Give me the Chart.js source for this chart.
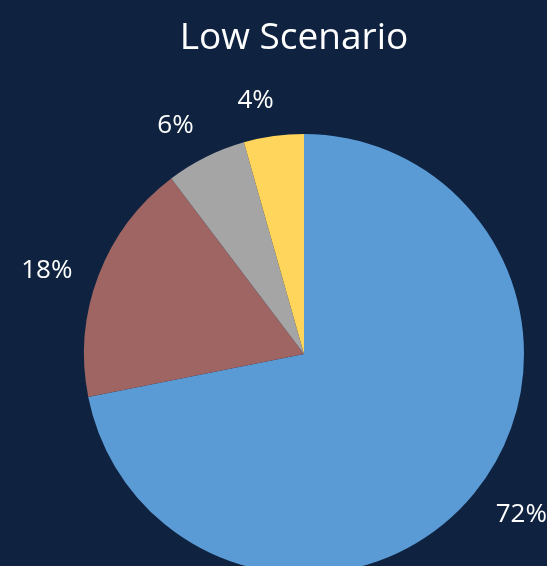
<!DOCTYPE html>
<html>
<head>
<meta charset="utf-8">
<script src="https://cdn.jsdelivr.net/npm/chart.js@4/dist/chart.umd.min.js"></script>
<style>
  html, body { margin: 0; padding: 0; background: #0F2341; overflow: hidden; }
  #wrap { width: 547px; height: 566px; overflow: hidden; }
</style>
</head>
<body>
<div id="wrap"><canvas id="pie" width="547" height="600"></canvas></div>
<script>
const categories = ['Series A', 'Series B', 'Series C', 'Series D'];
const shares = [71.8, 17.8, 5.9, 4.4];
const sliceColors = ['#5B9BD5', '#9E6562', '#A5A5A5', '#FFD65B'];
const chartTitle = 'Low Scenario';

// title + outside-end percentage labels
const labelPlugin = {
    id: 'labels',
    afterDatasetsDraw(chart) {
        const ctx = chart.ctx;
        ctx.save();
        ctx.fillStyle = '#FFFFFF';
        ctx.textAlign = 'center';
        ctx.textBaseline = 'middle';
        ctx.font = '37px "Open Sans"';
        ctx.fillText(chartTitle, 294, 38);

        ctx.font = '26px "Open Sans"';
        const total = shares.reduce((a, b) => a + b, 0);
        const meta = chart.getDatasetMeta(0);
        meta.data.forEach(function (arc, i) {
            // labels sit a little counterclockwise of the slice middle
            const mid = (arc.startAngle + arc.endAngle) / 2 - 0.05;
            const ux = Math.cos(mid), uy = Math.sin(mid);
            const text = Math.round(shares[i] / total * 100) + '%';
            const w = ctx.measureText(text).width;
            const h = 26;
            const ext = Math.abs(ux) * w / 2 + Math.abs(uy) * h / 2;
            const r = arc.outerRadius + 22 + ext;
            ctx.fillText(text, arc.x + ux * r, arc.y + uy * r);
        });
        ctx.restore();
    }
};

new Chart(document.getElementById('pie'), {
    type: 'pie',
    data: {
        labels: categories,
        datasets: [{
            data: shares,
            backgroundColor: sliceColors,
            borderWidth: 0
        }]
    },
    options: {
        responsive: false,
        animation: false,
        layout: { padding: { left: 84, right: 23, top: 134, bottom: 26 } },
        plugins: {
            legend: { display: false },
            tooltip: { enabled: false }
        }
    },
    plugins: [labelPlugin]
});
</script>
</body>
</html>
